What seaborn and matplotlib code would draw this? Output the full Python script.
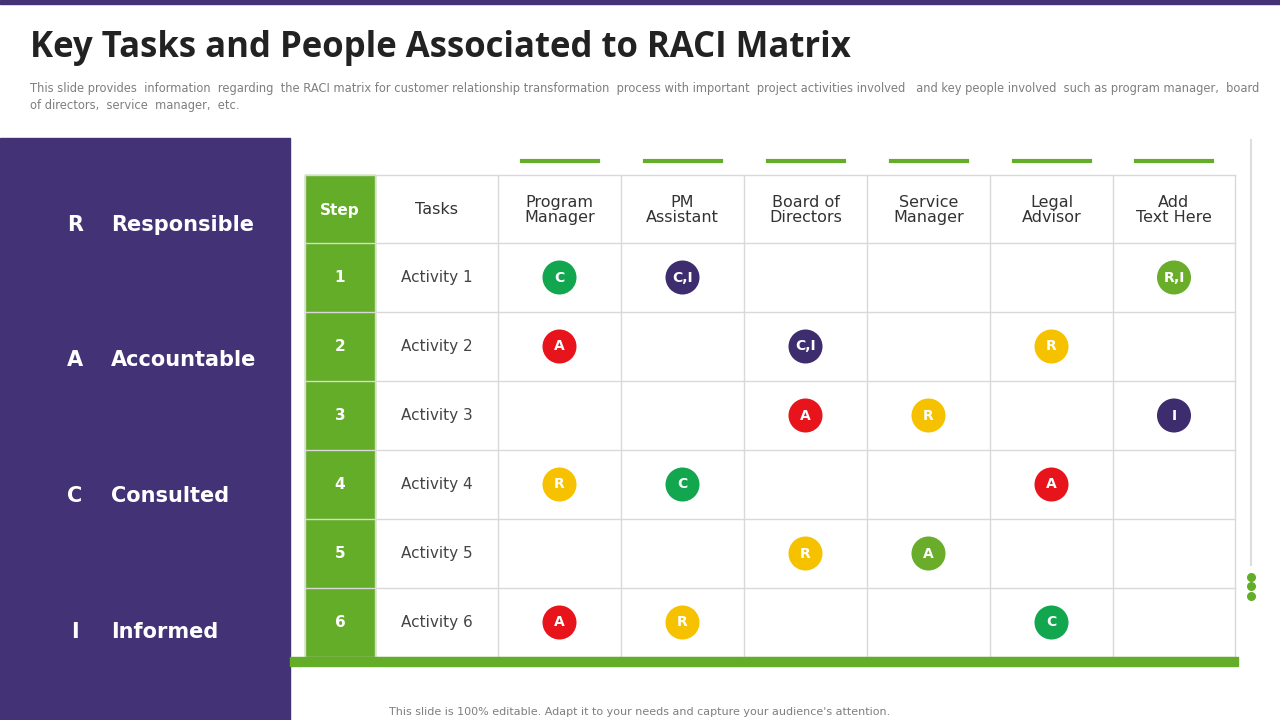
import matplotlib
matplotlib.use("Agg")
import matplotlib.pyplot as plt
import seaborn as sns
import pandas as pd
from matplotlib.patches import Rectangle

# ---- data ----
columns = ["Program\nManager", "PM\nAssistant", "Board of\nDirectors",
           "Service\nManager", "Legal\nAdvisor", "Add\nText Here"]
steps = ["1", "2", "3", "4", "5", "6"]
activities = ["Activity 1", "Activity 2", "Activity 3",
              "Activity 4", "Activity 5", "Activity 6"]
# (activity index, column index, label, colour)
cell_row = [0, 0, 0, 1, 1, 1, 2, 2, 2, 3, 3, 3, 4, 4, 5, 5, 5]
cell_col = [0, 1, 5, 0, 2, 4, 2, 3, 5, 0, 1, 4, 2, 3, 0, 1, 4]
cell_txt = ["C", "C,I", "R,I", "A", "C,I", "R", "A", "R", "I",
            "R", "C", "A", "R", "A", "A", "R", "C"]
cell_clr = ["#12a64f", "#3d2c6e", "#6aad2b", "#e8141b", "#3d2c6e", "#f6c200",
            "#e8141b", "#f6c200", "#3d2c6e", "#f6c200", "#12a64f", "#e8141b",
            "#f6c200", "#6aad2b", "#e8141b", "#f6c200", "#12a64f"]
legend_letters = ["R", "A", "C", "I"]
legend_words = ["Responsible", "Accountable", "Consulted", "Informed"]

PURPLE = "#433276"
GREEN = "#63ad28"
GRID = "#d9d9d9"

fig = plt.figure(figsize=(12.8, 7.2), dpi=100)
ax = fig.add_axes([0, 0, 1, 1])
ax.set_xlim(0, 1280)
ax.set_ylim(720, 0)
ax.axis("off")

# header
ax.add_patch(Rectangle((0, 0), 1280, 4, color=PURPLE))
ax.text(30, 48, "Key Tasks and People Associated to RACI Matrix", fontsize=25,
        fontweight="bold", color="#222222", va="center", family="Open Sans")
ax.text(30, 97, "This slide provides  information  regarding  the RACI matrix for customer relationship transformation  process with important  project activities involved   and key people involved  such as program manager,  board\nof directors,  service  manager,  etc.",
        fontsize=8.3, color="#7f7f7f", va="center", linespacing=1.45)
ax.text(640, 712, "This slide is 100% editable. Adapt it to your needs and capture your audience's attention.",
        fontsize=8, color="#7f7f7f", ha="center", va="center")

# left legend panel
ax.add_patch(Rectangle((0, 138), 290, 582, color=PURPLE))
for i, (l, w) in enumerate(zip(legend_letters, legend_words)):
    y = 225 + i * 135.5
    ax.text(75, y, l, color="white", fontsize=15, fontweight="bold", ha="center", va="center")
    ax.text(111, y, w, color="white", fontsize=15, fontweight="bold", va="center")

# table geometry
xs = [305, 375, 498, 621, 744, 867, 990, 1113, 1235]
ys = [175, 243, 312, 381, 450, 519, 588, 657]
ax.add_patch(Rectangle((xs[0], ys[0]), xs[1] - xs[0], ys[-1] - ys[0], color=GREEN, zorder=1))
for x in xs:
    ax.plot([x, x], [ys[0], ys[-1]], color=GRID, lw=1, zorder=2)
for y in ys:
    ax.plot([xs[0], xs[-1]], [y, y], color=GRID, lw=1, zorder=2)
ax.add_patch(Rectangle((290, 657), 948, 9, color=GREEN, zorder=3))

ax.text((xs[0] + xs[1]) / 2, 210, "Step", color="white", fontsize=11, fontweight="bold", ha="center", va="center")
ax.text((xs[1] + xs[2]) / 2, 210, "Tasks", color="#333333", fontsize=11.5, ha="center", va="center")
for j, c in enumerate(columns):
    cx = (xs[j + 2] + xs[j + 3]) / 2
    ax.text(cx, 210, c, color="#333333", fontsize=11.5, ha="center", va="center", linespacing=1.0)
    ax.plot([cx - 38, cx + 38], [161, 161], color=GREEN, lw=3)
for i, (s, a) in enumerate(zip(steps, activities)):
    cy = (ys[i + 1] + ys[i + 2]) / 2
    ax.text((xs[0] + xs[1]) / 2, cy, s, color="white", fontsize=11, fontweight="bold", ha="center", va="center")
    ax.text((xs[1] + xs[2]) / 2, cy, a, color="#444444", fontsize=11, ha="center", va="center")

df = pd.DataFrame({
    "x": [(xs[c + 2] + xs[c + 3]) / 2 for c in cell_col],
    "y": [(ys[r + 1] + ys[r + 2]) / 2 for r in cell_row],
    "txt": cell_txt, "clr": cell_clr,
})
sns.scatterplot(data=df, x="x", y="y", hue="clr", palette={c: c for c in set(cell_clr)},
                s=600, edgecolor="none", legend=False, ax=ax, zorder=4)
for _, r in df.iterrows():
    ax.text(r.x, r.y, r.txt, color="white", fontsize=10, fontweight="bold",
            ha="center", va="center", zorder=5)
ax.set_xlim(0, 1280)
ax.set_ylim(720, 0)
ax.axis("off")

# scrollbar decoration
ax.plot([1251, 1251], [140, 565], color="#dddddd", lw=1.5)
ax.scatter([1251, 1251, 1251], [577, 586, 596], color=GREEN, s=30)

fig.savefig("out.png", dpi=100)
